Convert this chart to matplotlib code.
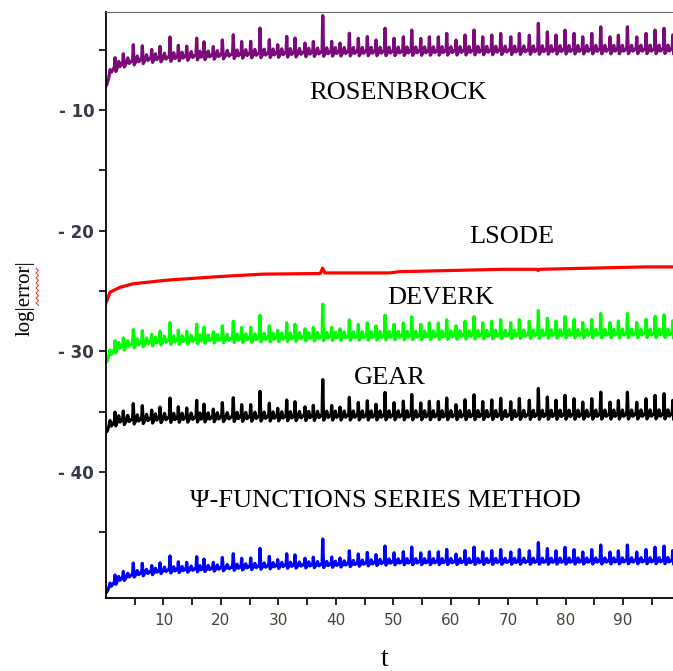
import matplotlib.pyplot as plt
import numpy as np
from matplotlib.lines import Line2D

# times of the spikes (shared by the four oscillating curves)
t_spike = [1.57, 3.01, 4.75, 6.32, 7.96, 9.40, 11.14, 12.59, 14.05, 15.79,
           17.06, 18.68, 20.25, 22.16, 23.62, 25.19, 26.81, 28.43, 29.89, 31.46,
           32.90, 34.64, 36.09, 37.73, 39.29, 40.74, 42.36, 43.92, 45.49, 47.00,
           48.57, 50.14, 51.76, 53.22, 54.79, 56.29, 57.85, 59.31, 60.93, 62.50,
           64.07, 65.58, 67.15, 68.71, 70.46, 71.95, 73.69, 75.26, 76.83, 78.34,
           79.91, 81.48, 82.99, 84.56, 86.12, 87.74, 89.19, 90.76, 92.39, 94.01,
           95.58, 97.14, 98.66]
# spike size above the trough
spike_height = [1.19, 1.12, 1.70, 1.49, 1.08, 1.29, 2.02, 1.29, 1.18, 1.80,
                1.48, 1.05, 1.58, 1.97, 1.39, 1.38, 2.46, 1.48, 1.05, 1.72,
                1.57, 1.14, 1.25, 3.37, 1.22, 1.07, 1.88, 1.46, 1.59, 1.30,
                2.27, 1.43, 1.55, 2.10, 1.40, 1.53, 1.52, 1.80, 1.24, 1.65,
                2.06, 1.49, 1.63, 1.76, 1.47, 1.74, 1.59, 2.56, 1.85, 1.58,
                1.98, 1.71, 1.42, 1.70, 2.24, 1.41, 1.54, 2.23, 1.39, 1.68,
                1.95, 2.09, 1.54]

# troughs of each curve
ros_t = [0, 0.5, 1, 3, 5, 8, 15, 25, 40, 60, 80, 99]
ros_y = [-8.0, -7.6, -7.0, -6.45, -6.25, -6.05, -5.85, -5.68, -5.52, -5.44, -5.35, -5.31]
dev_t = [0, 2, 5, 10, 20, 40, 60, 80, 99]
dev_y = [-30.9, -30.0, -29.7, -29.45, -29.3, -29.1, -29.0, -28.9, -28.85]
gear_t = [0, 2, 10, 40, 99]
gear_y = [-36.7, -36.1, -35.9, -35.7, -35.6]
psi_t = [0, 2, 5, 10, 20, 30, 40, 50, 99]
psi_y = [-50.0, -49.2, -48.7, -48.4, -48.2, -48.0, -47.9, -47.7, -47.6]

# LSODE is smooth
lsode_t = [0, 0.7, 2.4, 4.7, 7.7, 10.6, 14.6, 19.8, 27.3, 37.3, 37.7, 38.1, 49.4, 51, 69, 75.0, 75.2, 75.5, 94, 99]
lsode_y = [-26.0, -25.1, -24.7, -24.4, -24.25, -24.1, -23.97, -23.8, -23.6, -23.55, -23.1, -23.5,
           -23.5, -23.4, -23.2, -23.2, -23.3, -23.2, -23.0, -23.0]


def spiky(base_t, base_y, scale, hump):
    xs, ys = [0.0], [base_y[0]]
    prev = 0.0
    for tk, hk in zip(t_spike, spike_height):
        dt = tk - prev
        for f, lift in [(0.1, 0), (0.3, 0.4 * hump), (0.45, hump), (0.6, 0.3 * hump), (0.8, 0.5 * hump), (0.93, 0.6 * hump)]:
            x = prev + f * dt
            xs.append(x)
            ys.append(np.interp(x, base_t, base_y) + lift)
        xs.append(tk)
        ys.append(np.interp(tk, base_t, base_y) + scale * hk)
        prev = tk
    xs.append(prev + 0.15)
    ys.append(np.interp(prev + 0.15, base_t, base_y))
    return xs, ys


plt.rcParams['font.family'] = ['DejaVu Sans']
fig = plt.figure(figsize=(6.73, 6.71), dpi=100)
ax = fig.add_axes([0.1575, 0.1088, 0.8425, 0.8733])

lw = 2.3
x, y = spiky(ros_t, ros_y, 1.0, 0.7)
ax.plot(x, y, color='#7b0a7b', lw=lw)
ax.plot(lsode_t, lsode_y, color='#ff0000', lw=lw)
x, y = spiky(dev_t, dev_y, 0.9, 0.7)
ax.plot(x, y, color='#00ff00', lw=lw)
x, y = spiky(gear_t, gear_y, 1.0, 0.75)
ax.plot(x, y, color='black', lw=lw)
x, y = spiky(psi_t, psi_y, 0.7, 0.5)
ax.plot(x, y, color='#0000ff', lw=lw)

ax.set_xlim(0, 98.7)
ax.set_ylim(-50.45, -1.87)
ax.set_xticks(np.arange(10, 95, 10))
ax.set_xticks(np.arange(5, 99, 10), minor=True)
ax.set_yticks([-40, -30, -20, -10])
ax.set_yticks([-45, -35, -25, -15, -5], minor=True)
ax.set_yticklabels(['- 40', '- 30', '- 20', '- 10'])
ax.tick_params(which='both', direction='out', length=5, width=1.2, color='black')
ax.tick_params(axis='y', labelsize=12, labelcolor='#353a45')
ax.tick_params(axis='x', labelsize=11, labelcolor='#4a4238', pad=6)
for lab in ax.get_yticklabels():
    lab.set_fontweight('bold')
ax.spines['right'].set_visible(False)
ax.spines['top'].set_color('#666666')
ax.spines['left'].set_linewidth(1.3)
ax.spines['bottom'].set_linewidth(1.3)

serif = 'Liberation Serif'
ax.text(50.8, -8.6, 'ROSENBROCK', family=serif, fontsize=19, ha='center', va='center')
ax.text(70.7, -20.55, 'LSODE', family=serif, fontsize=19, ha='center', va='center')
ax.text(58.3, -25.6, 'DEVERK', family=serif, fontsize=19, ha='center', va='center')
ax.text(49.4, -32.2, 'GEAR', family=serif, fontsize=19, ha='center', va='center')
ax.text(48.6, -42.4, 'Ψ-FUNCTIONS SERIES METHOD', family=serif, fontsize=19, ha='center', va='center')

fig.text(385 / 673, 1 - 660 / 671, 't', family=serif, fontsize=20, ha='center', va='center')
fig.text(25 / 673, 1 - 298 / 671, 'log|error|', family=serif, fontsize=15, rotation=90,
         ha='center', va='center')

# red spell-check squiggle beside "error"
sq_y = np.arange(268, 307, 2.5)
sq_x = np.where(np.arange(len(sq_y)) % 2 == 0, 36.0, 38.5)
fig.add_artist(Line2D(sq_x / 673, 1 - sq_y / 671, color='#e03030', lw=0.7, transform=fig.transFigure))

fig.savefig('out.png', dpi=100)
